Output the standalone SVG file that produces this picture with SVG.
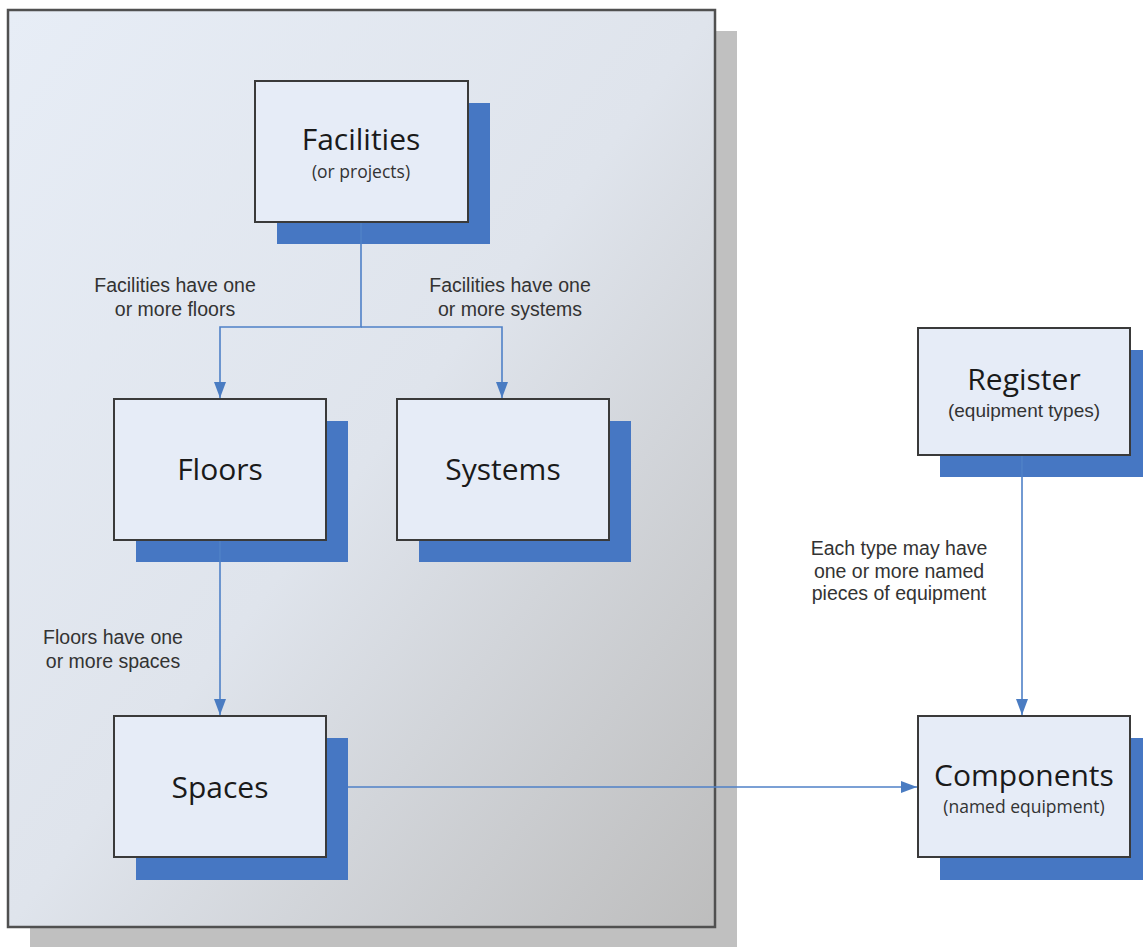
<svg xmlns="http://www.w3.org/2000/svg" width="1143" height="947" viewBox="0 0 1143 947">
  <defs>
    <linearGradient id="bg" x1="0" y1="0" x2="1" y2="1">
      <stop offset="0" stop-color="#e7edf6"/>
      <stop offset="0.5" stop-color="#dfe4ec"/>
      <stop offset="1" stop-color="#bdbdbd"/>
    </linearGradient>
    <marker id="arr" viewBox="0 0 16 12" refX="16" refY="6" markerWidth="16" markerHeight="12" markerUnits="userSpaceOnUse" orient="auto">
      <path d="M0,0 L16,6 L0,12 Z" fill="#4a7cc2"/>
    </marker>
    <style>
      .shadow { fill: #4677c3; }
      .box { fill: #e6ecf7; stroke: #3a3a3a; stroke-width: 2; }
      .title { font-family: "Open Sans", "Noto Sans", sans-serif; font-size: 30px; fill: #1a1a1a; text-anchor: middle; }
      .sub { font-family: "Open Sans", "Noto Sans", sans-serif; font-size: 17.5px; fill: #333; text-anchor: middle; }
      .sub2 { font-family: "Liberation Sans", Arial, sans-serif; font-size: 19px; fill: #333; text-anchor: middle; }
      .lbl { font-family: "Liberation Sans", Arial, sans-serif; font-size: 19.5px; fill: #333; text-anchor: middle; }
      .conn { fill: none; stroke: #4f81c7; stroke-width: 1.6; }
    </style>
  </defs>

  <g id="container">
    <rect x="30" y="31" width="707" height="920" fill="#c0c0c0"/>
    <rect x="8" y="10" width="707" height="917" fill="url(#bg)" stroke="#505050" stroke-width="2.5"/>
  </g>

  <g id="labels">
    <text class="lbl" x="175" y="292">Facilities have one</text>
    <text class="lbl" x="175" y="316">or more floors</text>
    <text class="lbl" x="510" y="292">Facilities have one</text>
    <text class="lbl" x="510" y="316">or more systems</text>
    <text class="lbl" x="113" y="644">Floors have one</text>
    <text class="lbl" x="113" y="668">or more spaces</text>
    <text class="lbl" x="899" y="555">Each type may have</text>
    <text class="lbl" x="899" y="578">one or more named</text>
    <text class="lbl" x="899" y="600">pieces of equipment</text>
  </g>

  <g id="node-facilities">
    <rect class="shadow" x="277" y="103" width="213" height="141"/>
    <rect class="box" x="255" y="81" width="213" height="141"/>
    <text class="title" x="361" y="150">Facilities</text>
    <text class="sub" x="361" y="178">(or projects)</text>
  </g>

  <g id="node-floors">
    <rect class="shadow" x="136" y="421" width="212" height="141"/>
    <rect class="box" x="114" y="399" width="212" height="141"/>
    <text class="title" x="220" y="480">Floors</text>
  </g>

  <g id="node-systems">
    <rect class="shadow" x="419" y="421" width="212" height="141"/>
    <rect class="box" x="397" y="399" width="212" height="141"/>
    <text class="title" x="503" y="480">Systems</text>
  </g>

  <g id="node-spaces">
    <rect class="shadow" x="136" y="738" width="212" height="142"/>
    <rect class="box" x="114" y="716" width="212" height="141"/>
    <text class="title" x="220" y="798">Spaces</text>
  </g>

  <g id="node-register">
    <rect class="shadow" x="940" y="350" width="212" height="127"/>
    <rect class="box" x="918" y="328" width="212" height="127"/>
    <text class="title" x="1024" y="390">Register</text>
    <text class="sub2" x="1024" y="417">(equipment types)</text>
  </g>

  <g id="node-components">
    <rect class="shadow" x="940" y="738" width="212" height="142"/>
    <rect class="box" x="918" y="716" width="212" height="141"/>
    <text class="title" x="1024" y="786">Components</text>
    <text class="sub" x="1024" y="813">(named equipment)</text>
  </g>

  <g id="connectors">
    <path class="conn" d="M361,223 V327 H220 V398" marker-end="url(#arr)"/>
    <path class="conn" d="M361,327 H502 V398" marker-end="url(#arr)"/>
    <path class="conn" d="M220,541 V715" marker-end="url(#arr)"/>
    <path class="conn" d="M348,787 H917" marker-end="url(#arr)"/>
    <path class="conn" d="M1022,456 V715" marker-end="url(#arr)"/>
  </g>
</svg>
